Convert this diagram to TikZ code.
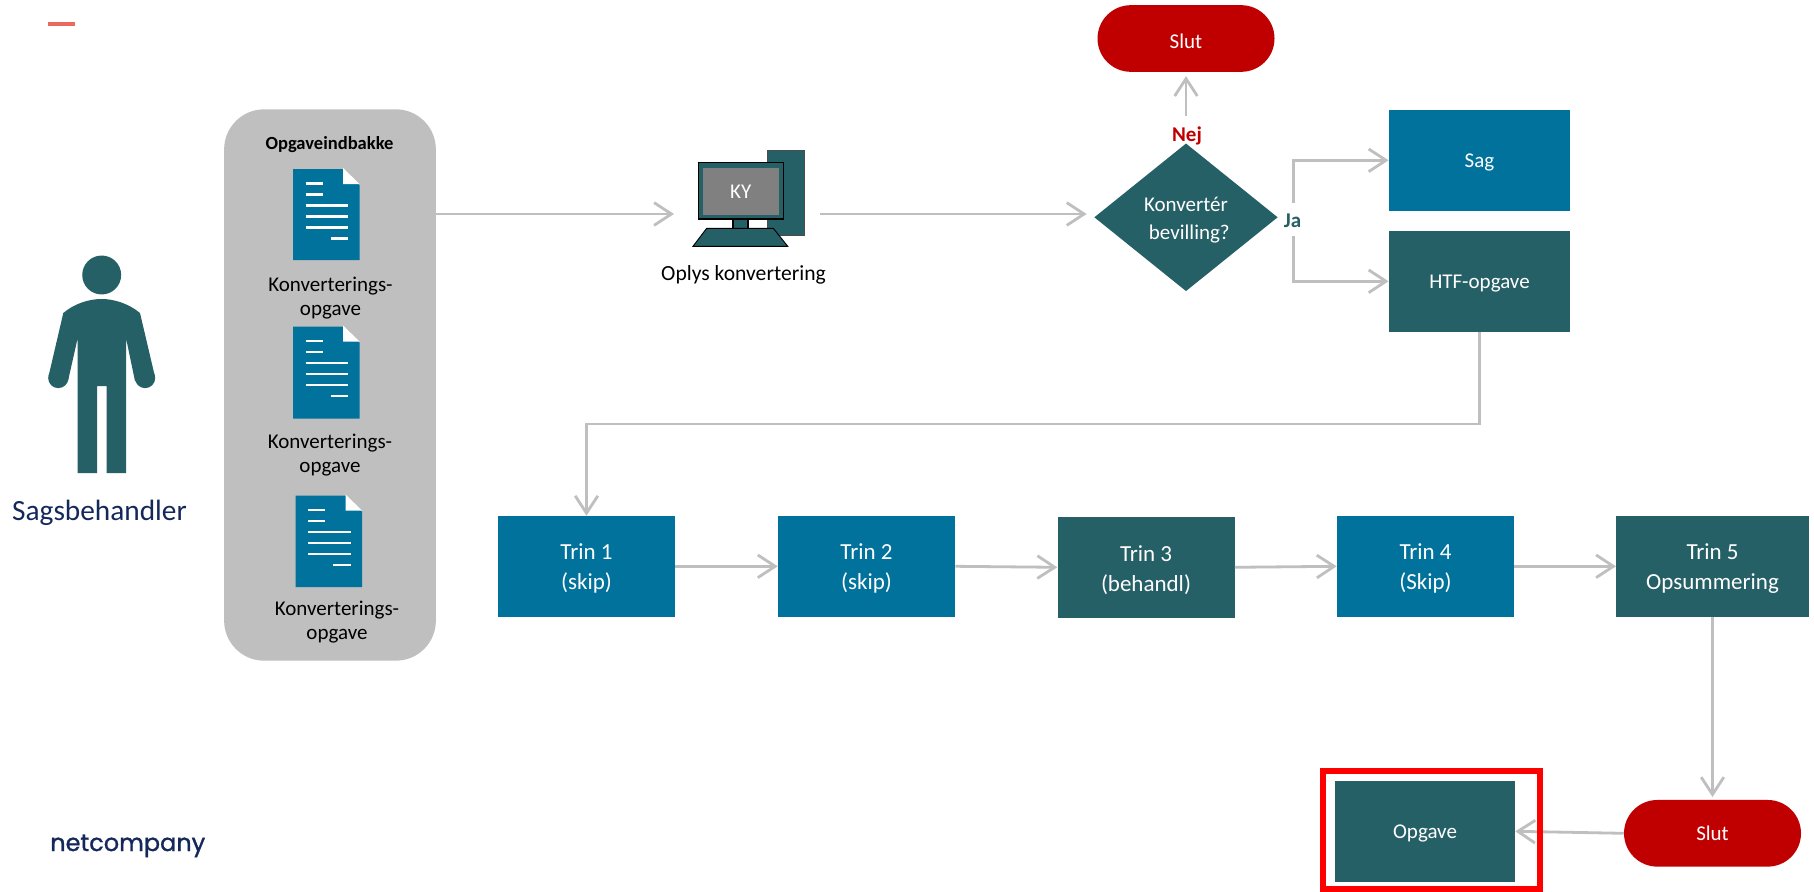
\documentclass[tikz,border=0pt]{standalone}
\usepackage{fontspec}
\setmainfont{Carlito}
\newfontfamily\netfont[FakeBold=1.2]{Poppins}
\usetikzlibrary{arrows.meta,shapes.geometric,calc}
\definecolor{teal}{HTML}{266067}
\definecolor{blue}{HTML}{00729B}
\definecolor{darkred}{HTML}{C00000}
\definecolor{linegray}{HTML}{BFBFBF}
\definecolor{navy}{HTML}{14285A}
\definecolor{accent}{HTML}{EB6A5E}
\definecolor{framered}{HTML}{FF0000}
\newcommand\docicon[3]{% x, y, height
  \begin{scope}[shift={(#1,#2)}]
    \fill[blue] (0,0) -- (50,0) -- (66.5,16) -- (66.5,#3) -- (0,#3) -- cycle;
    \fill[white] (50,-1) -- (50,15) -- (66.5,15) -- cycle;
    \draw[white,line width=1.6pt]
      (12.5,14.5) -- (29.5,14.5) (12.5,25.5) -- (29.5,25.5)
      (12.5,36.5) -- (55,36.5) (12.5,47.5) -- (55,47.5)
      (12.5,58.5) -- (55,58.5) (37.5,69.5) -- (55,69.5);
  \end{scope}}
% shape node (#2) at #3 in style #1, with its text (#4) set a little below the middle
\newcommand\flowbox[5][]{%
  \node[#2] (#3) at (#4) {};
  \node[boxtext,#1] (#3t) at (#4) {#5};}
\tikzset{
  x=0.75pt,y=-0.75pt,
  boxtext/.style={inner sep=0pt,text=white,align=center,yshift=-1.9pt,font=\fontsize{15.75}{22.5}\selectfont},
  box/.style={rectangle,inner sep=0pt},
  bluebox/.style={box,fill=blue,minimum width=136pt,minimum height=75.5pt},
  tealbox/.style={box,fill=teal,minimum width=136pt,minimum height=75.5pt},
  narrow/.style={minimum width=132.75pt},
  trin/.style={font=\fontsize{17.25}{22.5}\selectfont},
  pill/.style={box,fill=darkred,minimum width=132.75pt,minimum height=50pt,rounded corners=25pt},
  arr/.style={draw=linegray,line width=2.1pt,-{Straight Barb[length=13pt,width=17pt,line width=2.1pt]}},
  plain/.style={inner sep=0pt,align=center,text=black,font=\fontsize{15.75}{18}\selectfont},
}
\begin{document}
\begin{tikzpicture}
\useasboundingbox (0,0) rectangle (1814,892);
\fill[white] (0,0) rectangle (1814,892);
% accent bar
\fill[accent] (48,22) rectangle (75,26);
% person
\fill[teal] (101.7,275) circle[radius=14.6pt];
\fill[teal] (58.3,378) circle[radius=7.6pt] (145.1,378) circle[radius=7.6pt];
\fill[teal] (63.3,313) .. controls (75,303) and (90,299) .. (101.7,299)
  .. controls (113,299) and (128,303) .. (140,313) -- (154.8,376) -- (135,381) -- (126,338)
  -- (126,473) -- (106.7,473) -- (106.7,386) -- (97,386) -- (97,473) -- (77.7,473)
  -- (77.7,338) -- (68,381) -- (48.6,376) -- cycle;
\node[inner sep=0pt,text=navy,font=\fontsize{22}{26}\selectfont] (sb) at (99.5,513) {Sagsbehandler};
% inbox
\node[rectangle,fill=linegray,rounded corners=30pt,minimum width=158.8pt,minimum height=413.5pt,inner sep=0pt] (inbox) at (330,385) {};
\node[plain,font=\fontsize{13.9}{16}\selectfont\bfseries] (ib) at (329.5,144.5) {Opgaveindbakke};
\docicon{293}{169}{91}
\docicon{293}{326.5}{92}
\docicon{295.5}{495.5}{91.5}
\node[plain] (k1) at (330.5,298) {Konverterings-\\opgave};
\node[plain] (k2) at (330,455.5) {Konverterings-\\opgave};
\node[plain] (k3) at (337,622) {Konverterings-\\opgave};
% computer
\fill[teal,draw=black!70,line width=.5pt] (767.3,150) rectangle (804,235);
\fill[teal,draw=black,line width=.9pt] (733,219) rectangle (748,228.3);
\fill[teal,draw=black,line width=.7pt] (706.7,228.3) -- (773.3,228.3) -- (787.7,246.3) -- (693,246.3) -- cycle;
\fill[teal,draw=black,line width=.9pt] (698.3,162.3) rectangle (783.3,219);
\node[rectangle,fill=gray,text=white,inner sep=0pt,minimum width=57.2pt,minimum height=35.5pt,font=\fontsize{15.75}{18}\selectfont] (ky) at (740.8,191.3) {KY};
\node[plain,font=\fontsize{16.2}{18}\selectfont] (pc) at (743.5,275) {Oplys konvertering};
\coordinate (pcin) at (674,214);
\coordinate (pcout) at (820,214);
% decision
\flowbox[font=\fontsize{15.75}{21}\selectfont]{diamond,fill=teal,inner sep=0pt,minimum width=137.6pt,minimum height=110.8pt}{dec}{1186,217.3}{Konvertér\\\hspace{5pt}bevilling?}
\flowbox{pill}{slut1}{1186,38.5}{Slut}
\node[inner sep=0pt,text=darkred,font=\fontsize{15.75}{18}\selectfont\bfseries] (nej) at (1187,136) {Nej};
\node[inner sep=0pt,text=teal,font=\fontsize{15.75}{18}\selectfont\bfseries] (ja) at (1292.5,220.5) {Ja};
\flowbox{bluebox}{sag}{1479.5,160.3}{Sag}
\flowbox{tealbox}{htf}{1479.5,281.3}{HTF-opgave}
\coordinate (jat) at (1293.5,203);
\coordinate (jab) at (1293.5,236);
% steps
\flowbox[trin]{bluebox,narrow}{t1}{586.5,566.3}{Trin 1\\(skip)}
\flowbox[trin]{bluebox,narrow}{t2}{866.5,566.3}{Trin 2\\(skip)}
\flowbox[trin]{tealbox,narrow}{t3}{1146,567.3}{Trin 3\\(behandl)}
\flowbox[trin]{bluebox,narrow}{t4}{1425.5,566.3}{Trin 4\\(Skip)}
\flowbox[trin]{tealbox,minimum width=144.4pt}{t5}{1712.5,566.3}{Trin 5\\Opsummering}
\flowbox[yshift=1.9pt]{pill}{slut2}{1712.5,833.3}{Slut}
\flowbox{tealbox,minimum width=135pt}{opg}{1425,831.3}{Opgave}
% connectors
\draw[arr] (inbox.east |- pcin) -- (pcin);
\draw[arr,shorten >=5.5pt] (pcout) -- (dec.west |- pcout);
\draw[arr,shorten <=20pt,shorten >=3pt] (dec.north) -- (slut1.south);
\draw[arr] (jat) |- (sag.west);
\draw[arr] (jab) |- (htf.west);
\draw[arr] (htf.south) -- ++(0,92) -| (t1.north);
\draw[arr] (t1.east) -- (t2.west);
\draw[arr] (t2.east) -- (t3.west);
\draw[arr] (t3.east) -- (t4.west);
\draw[arr] (t4.east) -- (t5.west);
\draw[arr,shorten >=2pt] (t5.south) -- (slut2.north);
\draw[arr] (slut2.west) -- (opg.east);
% frame
\node[rectangle,draw=framered,line width=4.5pt,minimum width=162.5pt,minimum height=88.5pt,inner sep=0pt] (frame) at (1431.5,829.6) {};
% logo
\node[inner sep=0pt,anchor=base west,text=navy,font=\netfont\fontsize{18}{20}\selectfont] (logo) at (50,851) {netcompany};
\end{tikzpicture}
\end{document}
